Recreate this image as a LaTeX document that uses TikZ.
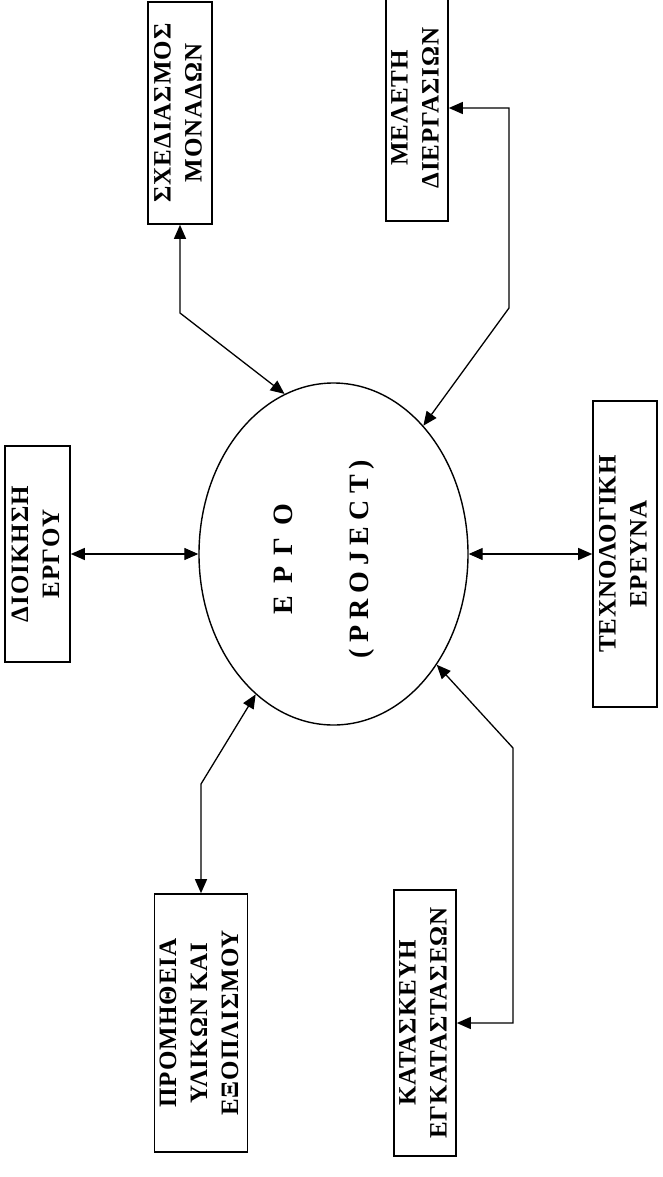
\documentclass[tikz,border=0pt]{standalone}
\usepackage{fontspec}
\setmainfont{Liberation Serif}
\newfontfamily\boxfont[LetterSpace=4]{Liberation Serif}
\newfontfamily\corefont[LetterSpace=22]{Liberation Serif}
\usetikzlibrary{shapes.geometric,arrows.meta}
% text set upright along the box, reading bottom to top
\newcommand\uplabel[1]{\rotatebox{90}{\begin{tabular}{@{}c@{}}#1\end{tabular}}}

\begin{document}
\begin{tikzpicture}[x=1pt,y=-1pt,
  pbox/.style={draw, rectangle, line width=1.6pt, inner sep=0pt,
    font={\boxfont\bfseries\fontsize{25}{31}\selectfont}},
  core/.style={draw, ellipse, line width=1.4pt, inner sep=0pt},
  link/.style={line width=1.3pt, {Triangle[length=14pt,width=12pt]}-{Triangle[length=14pt,width=12pt]}}
]
\fill[white] (0,0) rectangle (662,1177);
\useasboundingbox (0,0) rectangle (662,1177);

% central project
\node[core, minimum width=269pt, minimum height=342pt] (project) at (333.5,554) {};
\node[font={\corefont\bfseries\fontsize{28}{32}\selectfont}] (projtext) at (324,559)
  {\uplabel{{\addfontfeature{LetterSpace=42}ΕΡΓΟ}\\[44pt](PROJECT)}};

% surrounding activities
\node[pbox, minimum width=64pt, minimum height=222pt] (units) at (180,113)
  {\uplabel{ΣΧΕΔΙΑΣΜΟΣ\\ΜΟΝΑΔΩΝ}};
\node[pbox, minimum width=62pt, minimum height=226pt] (process) at (417,108)
  {\uplabel{ΜΕΛΕΤΗ\\ΔΙΕΡΓΑΣΙΩΝ}};
\node[pbox, minimum width=65pt, minimum height=216pt] (admin) at (37.5,554)
  {\uplabel{ΔΙΟΙΚΗΣΗ\\ΕΡΓΟΥ}};
\node[pbox, minimum width=64pt, minimum height=306pt] (research) at (625,554)
  {\uplabel{ΤΕΧΝΟΛΟΓΙΚΗ\\ΕΡΕΥΝΑ}};
\node[pbox, minimum width=90pt, minimum height=258pt] (supply) at (201,1023)
  {\uplabel{ΠΡΟΜΗΘΕΙΑ\\ΥΛΙΚΩΝ ΚΑΙ\\ΕΞΟΠΛΙΣΜΟΥ}};
\node[pbox, minimum width=62pt, minimum height=266pt] (build) at (425,1023)
  {\uplabel{ΚΑΤΑΣΚΕΥΗ\\ΕΓΚΑΤΑΣΤΑΣΕΩΝ}};

% bends of the connectors
\coordinate (k1) at (180,313);
\coordinate (k2) at (509,108);
\coordinate (k3) at (509,308);
\coordinate (k4) at (201,784);
\coordinate (k5) at (513,748);
\coordinate (k6) at (513,1023);

% connectors
\draw[link] (units.south) -- (k1) -- (project.107.5);
\draw[link] (process.east) -- (k2) -- (k3) -- (project.55);
\draw[link] (admin.east) -- (project.west);
\draw[link] (project.east) -- (research.west);
\draw[link] (project.241) -- (k4) -- (supply.north);
\draw[link] (project.313.7) -- (k5) -- (k6) -- (build.east);
\end{tikzpicture}
\end{document}
